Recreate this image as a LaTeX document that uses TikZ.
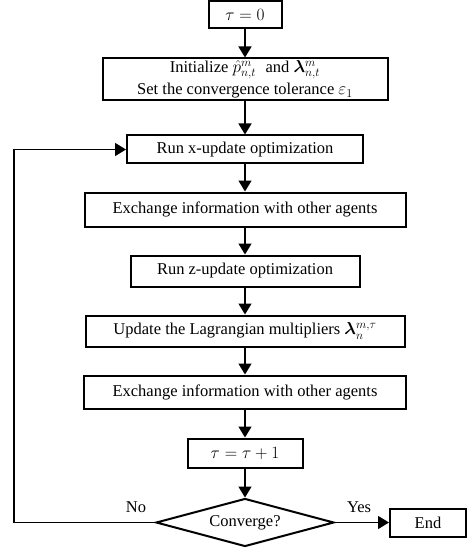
\documentclass[tikz,border=0pt]{standalone}
\usepackage{amsmath}
\usepackage{bm}
\usepackage{fontspec}
\setmainfont{Liberation Serif}
\usepackage{tikz}
\usetikzlibrary{shapes.geometric,arrows.meta,positioning}

\begin{document}
\begin{tikzpicture}[
			x=1pt, y=1pt,
			node distance=27pt,
			font=\fontsize{16.5}{19}\selectfont,
			box/.style={rectangle, draw, line width=2pt, minimum height=28pt, align=center, inner sep=2pt},
			cond/.style={diamond, draw, line width=2pt, aspect=3.6, inner sep=0pt, minimum width=178pt, minimum height=48pt},
			arr/.style={-{Triangle[length=11pt, width=13pt]}, line width=1.5pt}
			]
			\useasboundingbox (0,0) rectangle (472,-548);
			\node[box, minimum width=73pt, minimum height=27pt] (start) at (245,-15) {$\tau = 0$};
			\node[box, minimum width=285pt, minimum height=42pt, inner sep=1pt, below=28pt of start] (init) {Initialize $\hat{p}_{n,t}^{m}$\,\, and $\bm{\lambda}_{n,t}^{m}$\\[3pt]Set the convergence tolerance $\varepsilon_1$};
			\node[box, minimum width=236pt, below=33pt of init] (xupd) {Run x-update optimization};
			\node[box, minimum width=321pt, minimum height=34pt, below=of xupd] (exch1) {Exchange information with other agents};
			\node[box, minimum width=229pt, minimum height=31pt, below=of exch1] (zupd) {Run z-update optimization};
			\node[box, minimum width=319pt, minimum height=31pt, below=of zupd] (mult) {Update the Lagrangian multipliers $\bm{\lambda}_{n}^{m,\tau}$};
			\node[box, minimum width=322pt, minimum height=33pt, below=of mult] (exch2) {Exchange information with other agents};
			\node[box, minimum width=115pt, minimum height=29pt, below=28pt of exch2] (incr) {$\tau = \tau + 1$};
			\node[cond, below=29pt of incr] (conv) {Converge?};
			\node[box, minimum width=76pt, right=54pt of conv] (stop) {End};
			\coordinate[left=141pt of conv.west] (loop);
			\draw[arr] (start) -- (init);
			\draw[arr] (init) -- (xupd);
			\draw[arr] (xupd) -- (exch1);
			\draw[arr] (exch1) -- (zupd);
			\draw[arr] (zupd) -- (mult);
			\draw[arr] (mult) -- (exch2);
			\draw[arr] (exch2) -- (incr);
			\draw[arr] (incr) -- (conv);
			\draw[arr] (conv) -- (stop);
			\draw[arr] (conv.west) -- (loop) |- (xupd.west);
			\node (no) at (136,-507) {No};
			\node (yes) at (359,-507) {Yes};
		\end{tikzpicture}
\end{document}
